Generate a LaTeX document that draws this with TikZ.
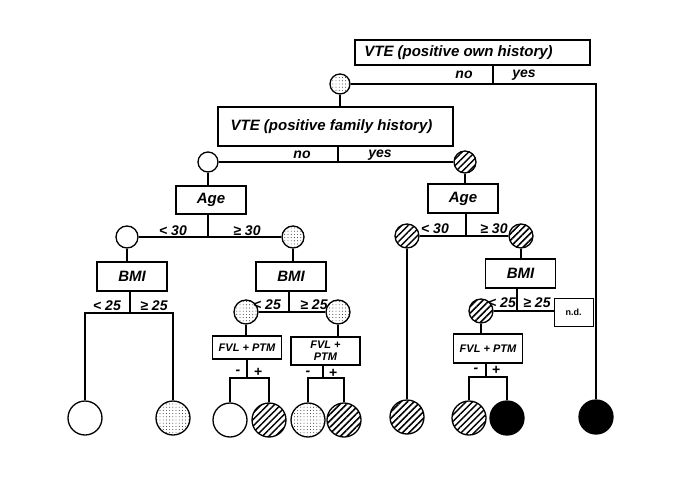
\documentclass[tikz,border=0pt]{standalone}
\usepackage{fontspec}
\setmainfont{Liberation Sans}
\usetikzlibrary{patterns.meta}

\begin{document}
\begin{tikzpicture}[x=1pt,y=-1pt,line width=1.3pt,
    box/.style={draw,rectangle,inner sep=0pt,minimum width=70pt,minimum height=29pt,
      font=\fontsize{15}{17}\selectfont\bfseries\itshape},
    smallbox/.style={box,minimum width=69pt,align=center,
      font=\fontsize{11}{12}\selectfont\bfseries\itshape},
    lab/.style={inner sep=0pt,font=\fontsize{14}{16}\selectfont\bfseries\itshape},
    open/.style={circle,draw,fill=white,inner sep=0pt},
    spotty/.style={open,pattern={Dots[distance=3.2pt,radius=0.45pt]}},
    hatch/.style={open,pattern={Lines[angle=45,distance=4.6pt,line width=1.5pt]}},
    solidblk/.style={circle,draw,fill=black,inner sep=0pt},
    sm/.style={minimum size=#1},
    leaf/.style={minimum size=34pt}]
  \useasboundingbox[fill=white] (0,0) rectangle (685,484);

  % question boxes
  \node[box,minimum width=235pt,minimum height=25pt] (own) at (472.5,52.5) {VTE (positive own history)\kern28pt};
  \node[box,minimum width=235pt,minimum height=39pt] (fam) at (335.5,126.5) {VTE (positive family history)\kern8pt};
  \node[box,minimum height=28pt] (ageL) at (211,200) {Age};
  \node[box] (ageR) at (463,198.5) {Age};
  \node[box] (bmiL) at (132,276.5) {BMI};
  \node[box] (bmiM) at (291,276.5) {BMI};
  \node[box] (bmiR) at (520.5,273.5) {BMI};
  \node[smallbox,minimum height=23pt] (fvlA) at (247,347.5) {FVL + PTM};
  \node[smallbox,minimum height=28pt] (fvlB) at (325.5,351) {FVL +\\PTM};
  \node[smallbox] (fvlC) at (488,348.5) {FVL + PTM};
  \node[draw,line width=0.6pt,minimum width=39pt,minimum height=28pt,inner sep=0pt,
    font=\fontsize{9}{10}\selectfont\bfseries] (nd) at (573.5,312) {n.d.};

  % branch circles
  \node[spotty,sm=20pt] (c0) at (340,84) {};
  \node[open,sm=20pt] (c1) at (208,162) {};
  \node[hatch,sm=22pt] (c2) at (465,162) {};
  \node[open,sm=22pt] (c3) at (127,237) {};
  \node[spotty,sm=22pt] (c4) at (293,237) {};
  \node[spotty,sm=24pt] (c5) at (246,312) {};
  \node[spotty,sm=24pt] (c6) at (338,312) {};
  \node[hatch,sm=24pt] (c7) at (407,236) {};
  \node[hatch,sm=24pt] (c8) at (521,236) {};
  \node[hatch,sm=24pt] (c9) at (481,311) {};

  % leaves
  \node[open,leaf] (L1) at (85,418) {};
  \node[spotty,leaf] (L2) at (173,418) {};
  \node[open,leaf] (L3) at (230,420) {};
  \node[hatch,leaf] (L4) at (269,420) {};
  \node[spotty,leaf] (L5) at (308,420) {};
  \node[hatch,leaf] (L6) at (344,420) {};
  \node[hatch,leaf] (L7) at (407,417) {};
  \node[hatch,leaf] (L8) at (469,418) {};
  \node[solidblk,leaf] (L9) at (507,418) {};
  \node[solidblk,leaf] (L10) at (596,417) {};

  % junctions
  \coordinate (j0) at (493,84);
  \coordinate (j1) at (338,162);
  \coordinate (jA) at (208,237);
  \coordinate (jB) at (130,313);
  \coordinate (jC) at (289,312);
  \coordinate (jD) at (247,378);
  \coordinate (jE) at (323,378);
  \coordinate (jF) at (466,236);
  \coordinate (jG) at (517,311);
  \coordinate (jH) at (486,377);

  % own history
  \draw (j0 |- own.south) -- (j0);
  \draw (c0.east) -- (j0) -| (L10.north);
  \draw (c0.south) -- (c0.south |- fam.north);

  % family history
  \draw (j1 |- fam.south) -- (j1);
  \draw (c1.east) -- (c2.west);
  \draw (c1.south) -- (c1.south |- ageL.north);
  \draw (c2.south) -- (c2.south |- ageR.north);

  % left age
  \draw (jA |- ageL.south) -- (jA);
  \draw (c3.east) -- (c4.west);
  \draw (c3.south) -- (c3.south |- bmiL.north);
  \draw (c4.south) -- (c4.south |- bmiM.north);
  \draw (jB |- bmiL.south) -- (jB);
  \draw (L1.north) |- (jB) -| (L2.north);
  \draw (jC |- bmiM.south) -- (jC);
  \draw (c5.east) -- (c6.west);
  \draw (c5.south) -- (c5.south |- fvlA.north);
  \draw (c6.south) -- (c6.south |- fvlB.north);
  \draw (jD |- fvlA.south) -- (jD);
  \draw (L3.north) |- (jD) -| (L4.north);
  \draw (jE |- fvlB.south) -- (jE);
  \draw (L5.north) |- (jE) -| (L6.north);

  % right age
  \draw (jF |- ageR.south) -- (jF);
  \draw (c7.east) -- (c8.west);
  \draw (c7.south) -- (L7.north);
  \draw (c8.south) -- (c8.south |- bmiR.north);
  \draw (jG |- bmiR.south) -- (jG);
  \draw (c9.east) -- (c9.east -| nd.west);
  \draw (c9.south) -- (c9.south |- fvlC.north);
  \draw (jH |- fvlC.south) -- (jH);
  \draw (L8.north) |- (jH) -| (L9.north);

  % branch labels
  \node[lab] (no0) at (464,75) {no};
  \node[lab] (yes0) at (524,75) {yes};
  \node[lab] (no1) at (302,155) {no};
  \node[lab] (yes1) at (380,155) {yes};
  \node[lab] (ltA) at (173,231) {< 30};
  \node[lab] (geA) at (247,231) {≥ 30};
  \node[lab] (ltF) at (435,229) {< 30};
  \node[lab] (geF) at (494,229) {≥ 30};
  \node[lab] (ltB) at (107,306) {< 25};
  \node[lab] (geB) at (154,306) {≥ 25};
  \node[lab] (ltC) at (267,305) {< 25};
  \node[lab] (geC) at (314,305) {≥ 25};
  \node[lab] (ltG) at (502,303) {< 25};
  \node[lab] (geG) at (537,303) {≥ 25};
  \node[lab] (mD) at (238,372) {-};
  \node[lab] (pD) at (258,372) {+};
  \node[lab] (mE) at (308,373) {-};
  \node[lab] (pE) at (333,373) {+};
  \node[lab] (mH) at (476,370) {-};
  \node[lab] (pH) at (496,370) {+};
\end{tikzpicture}
\end{document}
